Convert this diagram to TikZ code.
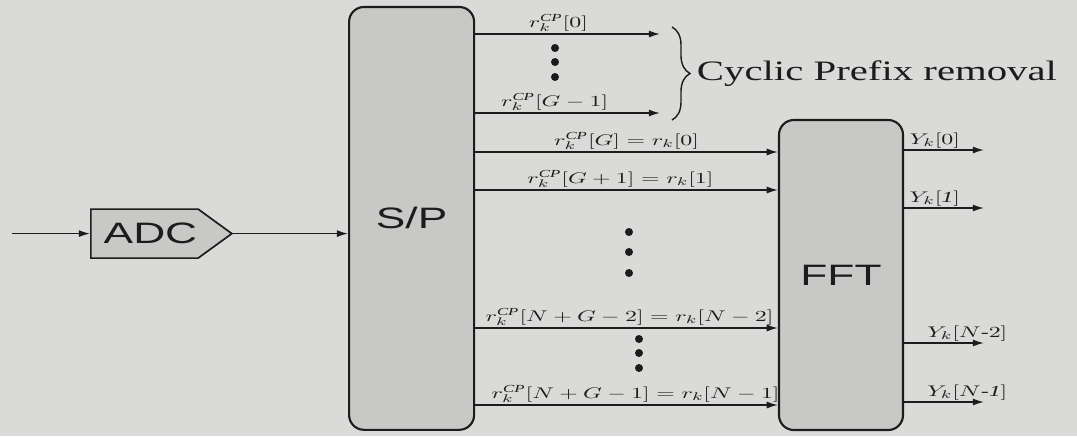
\documentclass[tikz,border=0pt]{standalone}
\usepackage{amsmath}
\usepackage{fontspec}
\setmainfont{Liberation Serif}
\newfontfamily\blockfont[FakeStretch=1.5]{Liberation Sans}
\newfontfamily\notefont[FakeStretch=1.45]{Liberation Serif}
\usetikzlibrary{
    shapes.symbols,
    arrows.meta,
    positioning,
    calc,
    decorations.pathreplacing
}
\definecolor{paper}{RGB}{218,218,216}
\definecolor{boxgray}{RGB}{200,200,198}
\definecolor{ink}{RGB}{28,28,28}
\tikzset{
    % Blocks
    block/.style={
        rectangle,
        draw=ink,
        line width=1.5pt,
        fill=boxgray,
        rounded corners=10pt,
        text=ink,
        font=\blockfont\fontsize{21}{24}\selectfont
    },
    adcblock/.style={
        signal,
        signal to=east,
        signal pointer angle=72,
        draw=ink,
        line width=1.2pt,
        fill=boxgray,
        minimum width=3.525cm,
        minimum height=1.225cm,
        inner sep=0pt,
        text=ink,
        font=\blockfont\fontsize{21}{24}\selectfont
    },
    % Arrows
    arrow/.style={
        -{Latex[length=8pt,width=5pt]},
        line width=1pt,
        draw=ink
    },
    % Signal labels
    sig/.style={
        font=\fontsize{11}{13}\selectfont,
        text=ink,
        inner sep=1pt,
        xscale=1.55,
        transform shape
    },
    note/.style={
        font=\notefont\fontsize{20}{22}\selectfont,
        text=ink
    },
    dot/.style={
        circle,
        fill=ink,
        inner sep=0pt,
        minimum size=0.2cm
    }
}
\begin{document}
\begin{tikzpicture}

    % Paper
    \fill[paper] (0,0) rectangle (26.925,-10.9);
    \useasboundingbox (0,0) rectangle (26.925,-10.9);

    % Blocks
    \node[adcblock, anchor=west] (adc) at (2.25,-5.84) {\hspace{0.3cm}ADC};
    \node[block, rounded corners=0.37cm, minimum width=3.125cm, minimum height=10.57cm] (sp) at (10.29,-5.46) {S/P};
    \node[block, rounded corners=0.37cm, minimum width=3.1cm, minimum height=7.75cm] (fft) at (21.025,-6.875) {FFT};

    % Input
    \coordinate (in) at (0.3,-5.84);
    \draw[arrow] (in) -- (adc.west);
    \draw[arrow] (adc.east) -- (adc.east -| sp.west);

    % Cyclic prefix samples
    \coordinate (cp0) at (16.5,-0.85);
    \coordinate (cp1) at (16.5,-2.825);
    \draw[arrow] (sp.east |- cp0) -- node[sig, above, pos=0.45] (lcp0) {$r_k^{\mathit{CP}}[0]$} (cp0);
    \draw[arrow] (sp.east |- cp1) -- node[sig, above, pos=0.43] (lcp1) {$r_k^{\mathit{CP}}[G-1]$} (cp1);
    \foreach \y [count=\i] in {-1.2,-1.55,-1.925}
        \node[dot] (da\i) at (13.875,\y) {};

    % Brace
    \coordinate (bt) at (16.8,-0.675);
    \coordinate (bb) at (16.8,-3.0);
    \draw[decorate, decoration={brace, amplitude=0.45cm}, line width=1pt, draw=ink] (bt) -- (bb);
    \node[note, anchor=west] (cpr) at ($(bt)!0.5!(bb)+(0.5,0)$) {Cyclic Prefix removal};

    % Samples into the FFT
    \foreach \y/\p/\lab [count=\i] in {
        -3.8/0.5/{$r_k^{\mathit{CP}}[G]=r_k[0]$},
        -4.75/0.48/{$r_k^{\mathit{CP}}[G+1]=r_k[1]$},
        -8.2/0.51/{$r_k^{\mathit{CP}}[N+G-2]=r_k[N-2]$},
        -10.125/0.53/{$r_k^{\mathit{CP}}[N+G-1]=r_k[N-1]$}}
        \draw[arrow] (sp.east |- 0,\y) -- node[sig, above, pos=\p] (lr\i) {\lab} (fft.west |- 0,\y);
    \foreach \y [count=\i] in {-5.8,-6.3,-6.825}
        \node[dot] (db\i) at (15.725,\y) {};
    \foreach \y [count=\i] in {-8.475,-8.825,-9.2}
        \node[dot] (dc\i) at (15.975,\y) {};

    % FFT outputs
    \foreach \y/\p/\lab [count=\i] in {
        -3.75/0.03/{$Y_k[0]$},
        -5.2/0.03/{$Y_k[\mathit{1}]$},
        -8.575/0.25/{$Y_k[N\text{-}2]$},
        -10.05/0.25/{$Y_k[N\text{-}\mathit{1}]$}}
    {
        \coordinate (y\i) at (24.6,\y);
        \draw[arrow] (fft.east |- y\i) -- node[sig, anchor=south west, pos=\p] (ly\i) {\lab} (y\i);
    }

\end{tikzpicture}
\end{document}
